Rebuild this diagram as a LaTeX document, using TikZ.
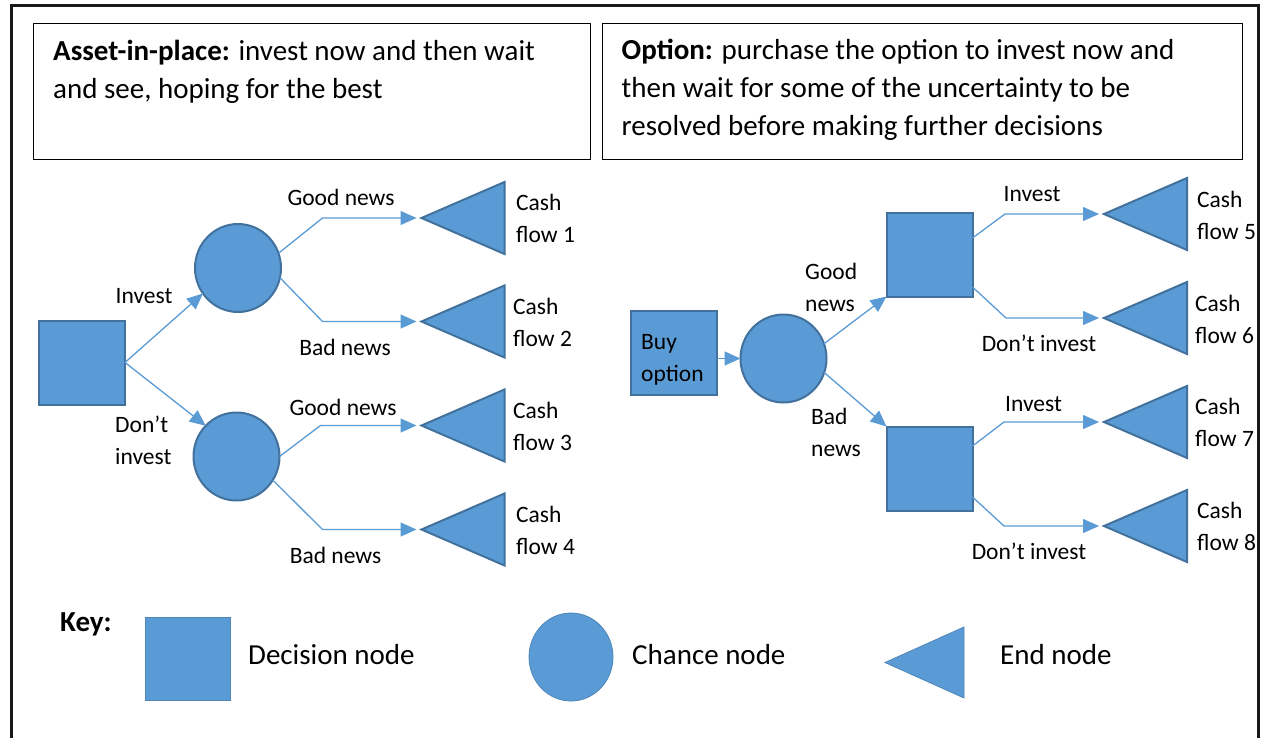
\documentclass[tikz,border=0pt]{standalone}
\usepackage{fontspec}
\setmainfont{Carlito}
\usetikzlibrary{arrows.meta,shapes.geometric}
\definecolor{nodeblue}{HTML}{5B9BD5}
\definecolor{nodeedge}{HTML}{41719C}

% end node: a left-pointing triangle with its tip at (#2,#3);
% the coordinate #1 is where an incoming arrow stops
\newcommand\EndTri[3]{%
  \filldraw[endshape] (#2,#3) -- ++(83,-36) -- ++(0,72) -- cycle;
  \coordinate (#1) at (#2-5,#3);}

\begin{document}
\begin{tikzpicture}[x=1pt,y=-1pt,
  decision/.style={draw=nodeedge, fill=nodeblue, line width=2pt,
    minimum width=86pt, minimum height=84pt, inner sep=0pt, outer sep=0pt},
  chance/.style={ellipse, draw=nodeedge, fill=nodeblue, line width=2pt,
    minimum width=86pt, minimum height=88pt, inner sep=0pt, outer sep=0pt},
  endshape/.style={draw=nodeedge, fill=nodeblue, line width=2pt, line join=miter},
  conn/.style={draw=nodeblue, line width=1.3pt,
    -{Triangle[length=16pt,width=14pt]}},
  lbl/.style={font=\fontsize{23.5}{31.5}\selectfont, inner sep=0pt, align=left},
  hdr/.style={font=\fontsize{29}{38}\selectfont, inner sep=0pt, align=left},
  keytxt/.style={font=\fontsize{29}{35}\selectfont, inner sep=0pt, anchor=base west},
  hbox/.style={draw, line width=1.3pt, inner sep=0pt, anchor=north west}]

\useasboundingbox (0,0) rectangle (1262,737);

% outer frame (open at the bottom)
\draw[line width=2.6pt, color=black!90] (11.5,745) -- (11.5,5.3) -- (1258.5,5.3) -- (1258.5,745);

% heading boxes (text nodes are placed by the baseline of their last line)
\node[hbox, minimum width=557pt, minimum height=136pt] (hA) at (32.5,22.5) {};
\node[hbox, minimum width=640pt, minimum height=136pt] (hB) at (601.5,22.5) {};
\node[hdr, anchor=base west] (tA) at (53,98)
  {\textbf{Asset-in-place:} invest now and then wait\\and see, hoping for the best};
\node[hdr, anchor=base west] (tB) at (621.5,135.5)
  {\textbf{Option:} purchase the option to invest now and\\then wait for some of the uncertainty to be\\resolved before making further decisions};

% ---------- asset-in-place tree ----------
\node[decision] (sqA) at (82,362.5) {};
\node[chance] (cU) at (238,268) {};
\node[chance] (cL) at (236.5,456.5) {};
\EndTri{a1}{421.5}{218}
\EndTri{a2}{421.5}{321.5}
\EndTri{a3}{421.5}{425.5}
\EndTri{a4}{421.5}{529.5}

\draw[conn] (sqA.east) -- (cU.216);
\draw[conn] (sqA.east) -- (cL.135);
\draw[conn] (cU.20)  -- ([xshift=-94pt]a1) -- (a1);
\draw[conn] (cU.-13) -- ([xshift=-94pt]a2) -- (a2);
\draw[conn] (cL.0)   -- ([xshift=-96pt]a3) -- (a3);
\draw[conn] (cL.-33) -- ([xshift=-94pt]a4) -- (a4);

\node[lbl, anchor=base] (gA1) at (341,205) {Good news};
\node[lbl, anchor=base] (bA1) at (345,355) {Bad news};
\node[lbl, anchor=base] (gA2) at (343,415) {Good news};
\node[lbl, anchor=base] (bA2) at (335.5,563) {Bad news};
\node[lbl, anchor=base] (inv) at (144,303) {Invest};
\node[lbl, anchor=base west] (dinv) at (115,464) {Don’t\\invest};
\node[lbl, anchor=base west] (cf1) at (516,242) {Cash\\flow 1};
\node[lbl, anchor=base west] (cf2) at (513,346) {Cash\\flow 2};
\node[lbl, anchor=base west] (cf3) at (513,450) {Cash\\flow 3};
\node[lbl, anchor=base west] (cf4) at (516,554) {Cash\\flow 4};

% ---------- option tree ----------
\node[decision] (sqB) at (674,352.5) {};
\node[lbl, anchor=base west] (buy) at (641,381) {Buy\\option};
\node[chance] (cR) at (783.5,358.5) {};
\node[decision] (sqU) at (929.5,254.5) {};
\node[decision] (sqD) at (929.5,468.5) {};
\EndTri{b5}{1104}{214}
\EndTri{b6}{1104}{318}
\EndTri{b7}{1104}{422}
\EndTri{b8}{1104}{526}

\draw[conn] (sqB.east |- cR.west) -- (cR.west);
\draw[conn] (cR.20)  -- (sqU.south west);
\draw[conn] (cR.-19) -- (sqD.north west);
\draw[conn] ([yshift=16.5pt]sqU.east)  -- ([xshift=-94pt]b5) -- (b5);
\draw[conn] ([yshift=-32.5pt]sqU.east) -- ([xshift=-93pt]b6) -- (b6);
\draw[conn] ([yshift=22.5pt]sqD.east)  -- ([xshift=-95pt]b7) -- (b7);
\draw[conn] ([yshift=-28.5pt]sqD.east) -- ([xshift=-95pt]b8) -- (b8);

\node[lbl, anchor=base west] (gn) at (805,311) {Good\\news};
\node[lbl, anchor=base west] (bn) at (811,456) {Bad\\news};
\node[lbl, anchor=base] (iU) at (1032,201) {Invest};
\node[lbl, anchor=base] (dU) at (1039,351) {Don’t invest};
\node[lbl, anchor=base] (iD) at (1033.5,411) {Invest};
\node[lbl, anchor=base] (dD) at (1029,559) {Don’t invest};
\node[lbl, anchor=base west] (cf5) at (1197,239) {Cash\\flow 5};
\node[lbl, anchor=base west] (cf6) at (1195,343) {Cash\\flow 6};
\node[lbl, anchor=base west] (cf7) at (1195,446) {Cash\\flow 7};
\node[lbl, anchor=base west] (cf8) at (1197,550) {Cash\\flow 8};

% ---------- key ----------
\node[keytxt, font=\bfseries\fontsize{29}{35}\selectfont] (key) at (60,631) {Key:};
\node[fill=nodeblue, draw=nodeedge!50!nodeblue, line width=0.8pt,
  minimum width=85pt, minimum height=83pt, inner sep=0pt] (kD) at (188,659) {};
\node[keytxt] (kDt) at (248,664) {Decision node};
\node[ellipse, fill=nodeblue, draw=nodeedge!50!nodeblue, line width=0.8pt,
  minimum width=84pt, minimum height=88pt, inner sep=0pt] (kC) at (571,657) {};
\node[keytxt] (kCt) at (632,664) {Chance node};
\filldraw[fill=nodeblue, draw=nodeedge!50!nodeblue, line width=0.8pt]
  (885,662.5) -- (964,627) -- (964,698) -- cycle;
\coordinate (kE) at (924,662.5);
\node[keytxt] (kEt) at (1000,664) {End node};
\end{tikzpicture}
\end{document}
